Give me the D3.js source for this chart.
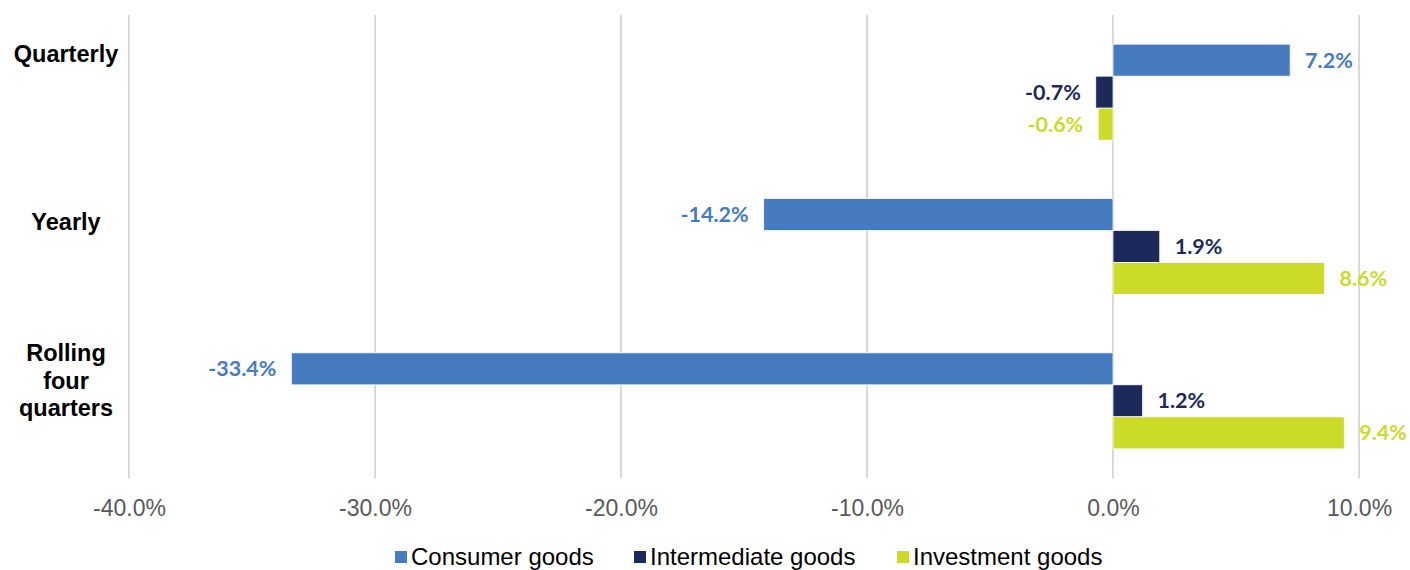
<!DOCTYPE html>
<html>
<head>
<meta charset="utf-8">
<script src="https://cdn.jsdelivr.net/npm/d3@7"></script>
<style>
  html, body { margin: 0; padding: 0; background: #fff; }
  svg { display: block; }
</style>
</head>
<body>
<svg id="chart" width="1410" height="570"></svg>
<script>
// Growth rates by period and goods type (percent)
const categories = ["Quarterly", "Yearly", "Rolling four quarters"];
const categoryLines = [["Quarterly"], ["Yearly"], ["Rolling", "four", "quarters"]];
const seriesNames = ["Consumer goods", "Intermediate goods", "Investment goods"];
const consumerGoods = [7.2, -14.2, -33.4];
const intermediateGoods = [-0.7, 1.9, 1.2];
const investmentGoods = [-0.6, 8.6, 9.4];
const tickValues = [-40, -30, -20, -10, 0, 10];

const colors = ["#467BBF", "#1C2A5B", "#CCDB28"];
const seriesValues = [consumerGoods, intermediateGoods, investmentGoods];

const svg = d3.select("#chart");
const plot = { left: 129, right: 1359, top: 15, bottom: 478 };

const x = d3.scaleLinear().domain([-40, 10]).range([plot.left, plot.right]);
const y = d3.scaleBand().domain(categories).range([plot.top, plot.bottom])
  .paddingInner(0.378).paddingOuter(0.189);
const ySub = d3.scaleBand().domain(seriesNames).range([0, y.bandwidth()]);

// vertical gridlines
svg.append("g").selectAll("line").data(tickValues).join("line")
  .attr("x1", d => x(d)).attr("x2", d => x(d))
  .attr("y1", plot.top).attr("y2", plot.bottom)
  .attr("stroke", "#D9D9D9").attr("stroke-width", 2);

// x axis tick labels
const axis = d3.axisBottom(x).tickValues(tickValues)
  .tickFormat(d => d.toFixed(1) + "%").tickSize(0).tickPadding(0);
const axG = svg.append("g").attr("transform", `translate(0,${plot.bottom + 24})`).call(axis);
axG.select(".domain").remove();
axG.selectAll("text")
  .attr("font-family", "'Liberation Sans', Arial, sans-serif")
  .attr("font-size", 23).attr("fill", "#595959").attr("dy", "0.35em").attr("y", 6);

// bars and labels
const rows = [];
categories.forEach((c, i) => {
  seriesNames.forEach((s, j) => rows.push({ cat: c, series: s, j, value: seriesValues[j][i] }));
});

svg.append("g").selectAll("rect").data(rows).join("rect")
  .attr("x", d => x(Math.min(0, d.value)))
  .attr("width", d => Math.abs(x(d.value) - x(0)))
  .attr("y", d => y(d.cat) + ySub(d.series))
  .attr("height", ySub.bandwidth())
  .attr("fill", d => colors[d.j])
  .attr("stroke", "#fff").attr("stroke-width", 0.75);

svg.append("g").selectAll("text").data(rows).join("text")
  .attr("x", d => d.value >= 0 ? x(d.value) + 15 : x(d.value) - 15)
  .attr("y", d => y(d.cat) + ySub(d.series) + ySub.bandwidth() / 2)
  .attr("dy", "0.35em")
  .attr("text-anchor", d => d.value >= 0 ? "start" : "end")
  .attr("font-family", "Lato, 'Open Sans', sans-serif")
  .attr("font-weight", "bold").attr("font-size", 21.5)
  .attr("fill", d => colors[d.j])
  .text(d => d.value.toFixed(1) + "%");

// category labels
const catLabelOffset = [10, 23, 0];
const catG = svg.append("g");
categories.forEach((c, i) => {
  const t = catG.append("text")
    .attr("text-anchor", "middle")
    .attr("font-family", "'Liberation Sans', Arial, sans-serif")
    .attr("font-weight", "bold").attr("font-size", 23.5).attr("fill", "#000");
  categoryLines[i].forEach((line, k) => {
    t.append("tspan").attr("x", 66)
      .attr("y", y(c) + catLabelOffset[i] + k * 27.5)
      .attr("dy", "0.35em").text(line);
  });
});

// legend
const legendX = [395, 634, 897];
const legend = svg.append("g");
seriesNames.forEach((s, j) => {
  legend.append("rect").attr("x", legendX[j]).attr("y", 551)
    .attr("width", 12).attr("height", 12).attr("fill", colors[j]);
  legend.append("text").attr("x", legendX[j] + 16).attr("y", 557).attr("dy", "0.35em")
    .attr("font-family", "'Liberation Sans', Arial, sans-serif")
    .attr("font-size", 24).attr("fill", "#000").text(s);
});
</script>
</body>
</html>
